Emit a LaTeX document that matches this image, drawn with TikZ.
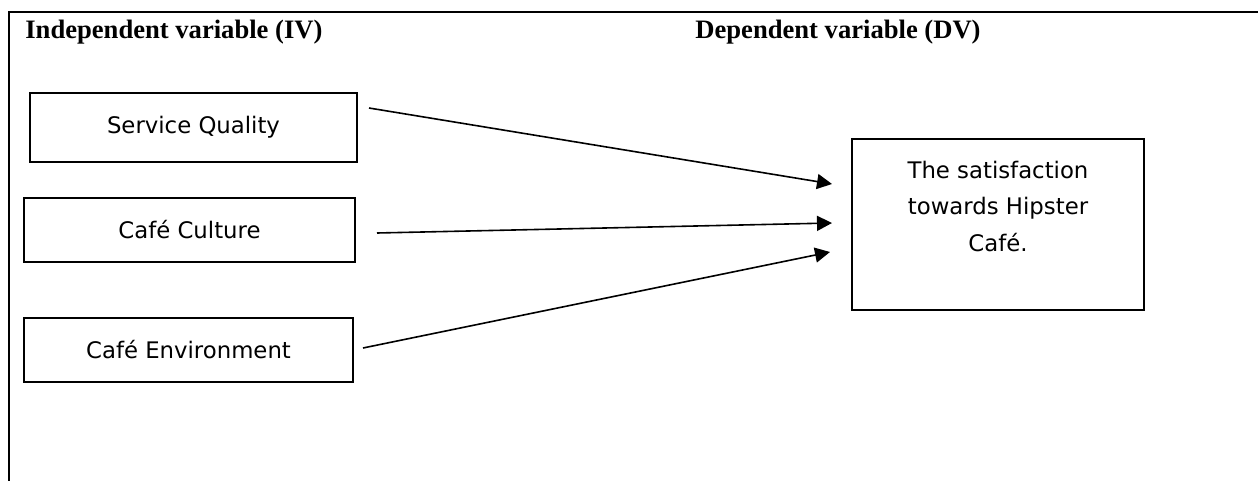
\documentclass[tikz,border=0pt]{standalone}
\usepackage{fontspec}
\setmainfont{Liberation Serif}
\newfontfamily\boxfont{DejaVu Sans}
\usepackage{tikz}
\usetikzlibrary{arrows.meta,positioning,calc}
\tikzset{
  hdr/.style={inner sep=0pt,font=\fontsize{13.3}{15}\selectfont\bfseries},
  varbox/.style={draw,line width=0.8pt,align=center,inner sep=2pt,font=\boxfont\fontsize{11.4}{18.3}\selectfont},
  arr/.style={-{Triangle[length=7.5pt,width=7.5pt]},line width=0.8pt}
}
\begin{document}
\begin{tikzpicture}[x=0.5pt,y=-0.5pt]
          \useasboundingbox (0,0) rectangle (1258,481);
          %% open frame (left and top only)
          \draw[line width=1.1pt] (9,481) -- (9,12) -- (1258,12);
          %% headings
          \node[hdr,anchor=base west] (hIV) at (25,39) {Independent variable (IV)};
          \node[hdr,anchor=base west] (hDV) at (695,39) {Dependent variable (DV)};
          %% IV boxes
          \node[varbox,minimum width=163.5pt,minimum height=34.5pt] (sq) at (193.5,127.5) {Service Quality};
          \node[varbox,minimum width=165.5pt,minimum height=32pt] (cc) at (189.5,230) {Café Culture};
          \node[varbox,minimum width=164.5pt,minimum height=32pt] (ce) at (188.5,350) {Café Environment};
          %% DV box
          \node[varbox,minimum width=146pt,minimum height=85.5pt] (dv) at (998,224.5) {The satisfaction\\towards Hipster\\Café.\\\mbox{}};
          %% arrow ends
          \coordinate (sqo) at (369,108);\coordinate (sqi) at (832,184);
          \coordinate (cco) at (377,233);\coordinate (cci) at (832,223);
          \coordinate (ceo) at (363,348);\coordinate (cei) at (830,252);
          \draw[arr](sqo)--(sqi);\draw[arr](cco)--(cci);\draw[arr](ceo)--(cei);
        \end{tikzpicture}
\end{document}
